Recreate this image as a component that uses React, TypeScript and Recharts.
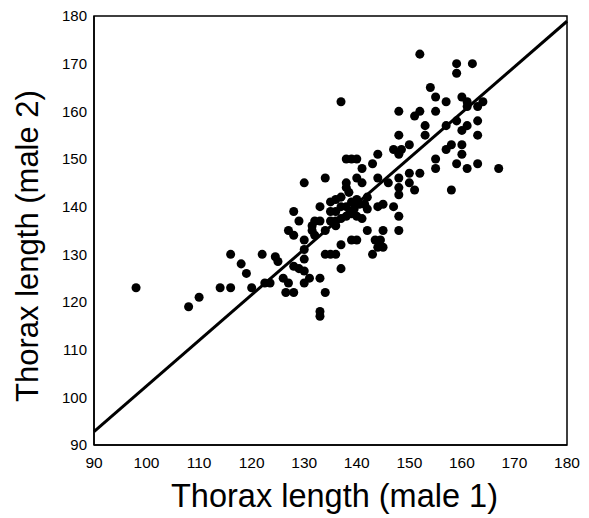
import React from "react";
import { ScatterChart, Scatter, XAxis, YAxis, ZAxis, ReferenceLine, ReferenceArea, Label } from "recharts";

const male1: number[] = [
  98, 108, 110, 114, 116, 116, 118, 119, 120, 122, 122.5, 123.5, 124.5, 125, 126, 127, 126.5, 128,
  127, 128, 128, 129, 129, 128, 130, 130, 130, 130, 130, 131, 131.5, 131.5, 132, 132, 133, 133,
  133, 133, 133, 134, 134, 134, 135, 135, 135, 136, 136, 136, 137, 137, 137, 137, 138, 138,
  138, 138.5, 139, 139, 139, 140, 130, 134, 137, 138, 139, 140, 140, 140, 141, 141, 142, 142,
  141, 142, 143, 143, 143.5, 144.5, 144, 145, 144, 144, 144, 145, 145, 146, 147, 147, 148.5, 148,
  148, 148, 148, 148, 148, 148, 148, 150, 150, 150, 151, 151, 152, 152, 152, 153, 153, 154,
  155, 155, 155, 155, 157, 157, 157, 158, 158, 159, 159, 159, 159, 160, 160, 160, 160, 161,
  161, 161, 161, 162, 163, 163, 163, 163, 164, 167, 141.5, 140.5, 136, 137, 138, 139.5, 140, 136, 135,
];

const male2: number[] = [
  123, 119, 121, 123, 123, 130, 128, 126, 123, 130, 124, 124, 129.5, 128.5, 125, 124, 122, 122,
  135, 134, 139, 137, 127, 127.5, 131, 129, 133, 126.5, 124, 125, 136, 135, 134, 137, 140, 137,
  125, 118, 117, 122, 135, 130, 141, 139, 130, 137, 139, 130, 127, 132, 142, 137.5, 145, 144,
  140, 143, 138.5, 141, 133, 133, 145, 146, 162, 150, 150, 150, 146, 141.5, 148, 145, 142, 139.5,
  137.5, 135, 149, 130, 133, 133, 131.5, 131.5, 151, 146, 140, 140.5, 135, 145, 140, 152, 152, 155,
  151, 146, 144, 142.5, 138, 135, 160, 153, 147, 145, 143.5, 159, 160, 147, 172, 155, 157, 165,
  163, 160, 150, 148, 162, 157, 152, 153, 143.5, 170, 168, 158, 149, 163, 156, 153, 151, 162,
  161, 157, 148, 170, 161, 158, 155, 149, 162, 148, 140.5, 140.5, 136, 140, 138, 139.5, 138, 141.5, 137,
];

const fitX: number[] = [90, 180];
const fitY: number[] = [92.8, 178.9];

const xTicks: number[] = [90, 100, 110, 120, 130, 140, 150, 160, 170, 180];
const yTicks: number[] = [90, 100, 110, 120, 130, 140, 150, 160, 170, 180];

const xTitle = "Thorax length (male 1)";
const yTitle = "Thorax length (male 2)";

const points = male1.map((x, i) => ({ x, y: male2[i] }));

const FONT = "'Liberation Sans', Arial, Helvetica, sans-serif";

export default function App() {
  return (
    <ScatterChart
      width={581}
      height={510}
      margin={{ top: 8, right: 22, bottom: 0, left: 26 }}
    >
      <XAxis
        type="number"
        dataKey="x"
        domain={[90, 180]}
        ticks={xTicks}
        allowDataOverflow
        height={73}
        tickLine={false}
        tickSize={0}
        tickMargin={12}
        axisLine={{ stroke: "#000", strokeWidth: 1.5 }}
        tick={{ fill: "#000", fontSize: 15.5, fontFamily: FONT }}
        interval={0}
      >
        <Label
          value={xTitle}
          position="insideBottom"
          offset={11}
          dx={4}
          style={{ fill: "#000", fontSize: 32.5, fontFamily: FONT }}
        />
      </XAxis>
      <YAxis
        type="number"
        dataKey="y"
        domain={[90, 180]}
        ticks={yTicks}
        allowDataOverflow
        width={60}
        tickLine={false}
        tickSize={0}
        tickMargin={7}
        axisLine={{ stroke: "#000", strokeWidth: 1.5 }}
        tick={{ fill: "#000", fontSize: 15, fontFamily: FONT }}
        interval={0}
      >
        <Label
          content={() => (
            <text
              x={19}
              y={238}
              transform="rotate(-90 19 238)"
              textAnchor="middle"
              dominantBaseline="central"
              fill="#000"
              fontSize={31}
              fontFamily={FONT}
            >
              {yTitle}
            </text>
          )}
        />
      </YAxis>
      <ZAxis range={[58, 58]} />
      <ReferenceArea
        x1={90}
        x2={180}
        y1={90}
        y2={180}
        fill="none"
        fillOpacity={0}
        stroke="#000"
        strokeWidth={1.5}
      />
      <ReferenceLine
        segment={[
          { x: fitX[0], y: fitY[0] },
          { x: fitX[1], y: fitY[1] },
        ]}
        stroke="#000"
        strokeWidth={3}
      />
      <Scatter data={points} fill="#000" isAnimationActive={false} />
    </ScatterChart>
  );
}
